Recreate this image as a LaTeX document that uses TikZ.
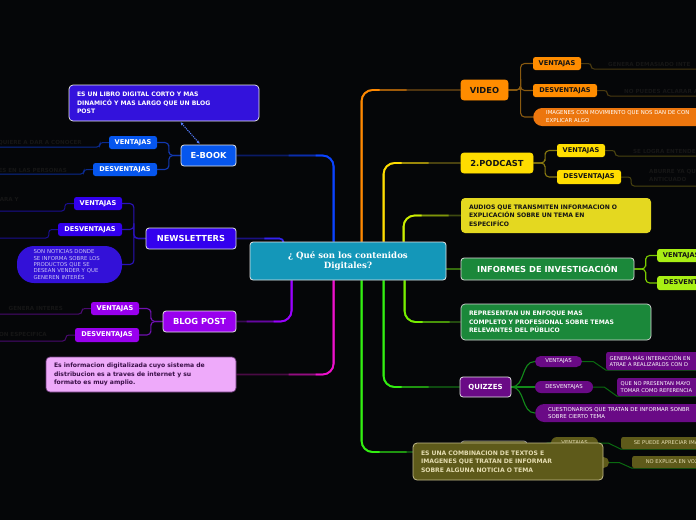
\documentclass[tikz,border=0pt]{standalone}
\usepackage{fontspec}
\setmainfont{DejaVu Sans}
\newfontfamily\titlefont{DejaVu Serif}
\usetikzlibrary{calc,arrows.meta,backgrounds}
\definecolor{bgc}{HTML}{050608}
\definecolor{cent}{HTML}{1497B9}
\definecolor{ebfill}{HTML}{0656EE}
\definecolor{ebnote}{HTML}{3312DC}
\definecolor{nwfill}{HTML}{3300EE}
\definecolor{nwnote}{HTML}{3311D8}
\definecolor{nwtext}{HTML}{C8C0F4}
\definecolor{blfill}{HTML}{9900EE}
\definecolor{infofill}{HTML}{EEAAFA}
\definecolor{infotext}{HTML}{3A1048}
\definecolor{vidfill}{HTML}{FF8C00}
\definecolor{vidnote}{HTML}{EC760E}
\definecolor{podfill}{HTML}{FFDD00}
\definecolor{audfill}{HTML}{E4D820}
\definecolor{grfill}{HTML}{1B883A}
\definecolor{limefill}{HTML}{A8EE14}
\definecolor{qfill}{HTML}{6A0A86}
\definecolor{olfill}{HTML}{5E5A1A}
\definecolor{oltext}{HTML}{E4DCB0}
\definecolor{darktext}{HTML}{141414}
\definecolor{hidc}{HTML}{161616}
\definecolor{lnblue}{HTML}{0A44FF}
\definecolor{lnbluedk}{HTML}{0A1A66}
\definecolor{lnviol}{HTML}{3322EE}
\definecolor{lnvioldk}{HTML}{1A1080}
\definecolor{lnpur}{HTML}{9900FF}
\definecolor{lnpurdk}{HTML}{3A0A55}
\definecolor{lnmag}{HTML}{EE11CC}
\definecolor{lnmagdk}{HTML}{4A0A44}
\definecolor{lnor}{HTML}{FF8800}
\definecolor{lnordk}{HTML}{4E3410}
\definecolor{lnye}{HTML}{FFDD00}
\definecolor{lnyedk}{HTML}{4A4210}
\definecolor{lnyl}{HTML}{CCEE00}
\definecolor{lnyldk}{HTML}{3E4A10}
\definecolor{lnlime}{HTML}{77EE00}
\definecolor{lnlimedk}{HTML}{244A10}
\definecolor{lngr}{HTML}{33EE11}
\definecolor{lngrdk}{HTML}{0E4A10}
\definecolor{chEb}{HTML}{1238B0}
\definecolor{chNw}{HTML}{2A12B8}
\definecolor{chBl}{HTML}{7010B0}
\definecolor{chVid}{HTML}{8A5A10}
\definecolor{chPod}{HTML}{8A7A10}
\definecolor{chInf}{HTML}{7ACC00}
\definecolor{chQ}{HTML}{128A1A}
\definecolor{lfEb}{HTML}{0A2A90}
\definecolor{lfNw}{HTML}{1A0E90}
\definecolor{lfBl}{HTML}{4A0A70}
\definecolor{lfVid}{HTML}{4A3A10}
\definecolor{lfPod}{HTML}{4A4410}
\definecolor{lfQ}{HTML}{0A6A10}
\newcommand\mconn[5]{%
  \draw[mline,draw=#5] (#1) |- (#2);
  \draw[mline,draw=#4!45!#5] (#1) |- ($(#1|-#2)+(#3*45,0)$);
  \draw[mline,draw=#4] (#1) |- ($(#1|-#2)+(#3*18,0)$);
}
\tikzset{
  mainbox/.style={rounded corners=3pt, inner sep=0pt, draw=white!80!gray, line width=0.8pt, text=white, font=\bfseries\fontsize{8.3}{10}\selectfont, align=center},
  subbox/.style={rounded corners=2.5pt, inner sep=0pt, font=\bfseries\fontsize{6.6}{8}\selectfont, align=center},
  notebox/.style={rounded corners=4pt, inner xsep=8pt, inner ysep=0pt, align=left, font=\bfseries\fontsize{6.1}{8.6}\selectfont},
  pillbox/.style={inner sep=0pt, font=\fontsize{5.4}{6.4}\selectfont, align=left},
  hidtext/.style={text=hidc, inner sep=0pt, font=\bfseries\fontsize{5.6}{8}\selectfont, align=left},
  mline/.style={line width=1.8pt, rounded corners=11pt},
  cline/.style={line width=1.1pt, rounded corners=4pt},
  lline/.style={line width=1pt, rounded corners=3pt},
}
\begin{document}
\begin{tikzpicture}[x=1pt,y=-1pt]
\useasboundingbox (0,0) rectangle (696,520);

% central
\node[mainbox, fill=cent, minimum width=196pt, minimum height=38pt, font=\titlefont\bfseries\fontsize{8.6}{10.4}\selectfont] (central) at (348,261) {¿ Qué son los contenidos\\Digitales?};

% ===== E-BOOK
\node[mainbox, fill=ebfill, minimum width=55pt, minimum height=21pt] (ebook) at (208.5,155.5) {E-BOOK};
\node[notebox, fill=ebnote, draw=white!85!gray, line width=0.7pt, text=white, text width=174pt, minimum height=36pt] (ebnote) at (164,103) {ES UN LIBRO DIGITAL CORTO Y MAS\\DINAMICÓ Y MAS LARGO QUE UN BLOG\\POST};
\node[subbox, fill=ebfill, text=white, minimum width=48pt, minimum height=13pt] (ebV) at (133,142.5) {VENTAJAS};
\node[subbox, fill=ebfill, text=white, minimum width=64pt, minimum height=13pt] (ebD) at (125,169.5) {DESVENTAJAS};
\coordinate (ebVend) at (-5,147);
\coordinate (ebDend) at (-5,174);
\node[hidtext, anchor=south east] (ebVt) at (82,145.5) {QUIERE A DAR A CONOCER};
\node[hidtext, anchor=south east] (ebDt) at (67,172.5) {ES EN LAS PERSONAS};

% ===== NEWSLETTERS
\node[mainbox, fill=nwfill, minimum width=90pt, minimum height=21pt] (news) at (191,238.5) {NEWSLETTERS};
\node[subbox, fill=nwfill, text=white, minimum width=48pt, minimum height=13pt] (nwV) at (98,203.5) {VENTAJAS};
\node[subbox, fill=nwfill, text=white, minimum width=64pt, minimum height=13pt] (nwD) at (90,229.5) {DESVENTAJAS};
\node[pillbox, fill=nwnote, text=nwtext, rounded corners=17pt, minimum width=105pt, minimum height=37pt, text width=72pt, inner xsep=16.5pt] (nwnote) at (69.5,264.5) {SON NOTICIAS DONDE\\SE INFORMA SOBRE LOS\\PRODUCTOS QUE SE\\DESEAN VENDER Y QUE\\GENEREN INTERÉS};
\coordinate (nwVend) at (-5,211);
\coordinate (nwDend) at (-5,238);
\node[hidtext, anchor=east] (nwVt) at (19,199.5) {ARA Y};

% ===== BLOG POST
\node[mainbox, fill=blfill, minimum width=73pt, minimum height=21pt] (blog) at (199.5,321.5) {BLOG POST};
\node[subbox, fill=blfill, text=white, minimum width=48pt, minimum height=13pt] (blV) at (115,308.5) {VENTAJAS};
\node[subbox, fill=blfill, text=white, minimum width=64pt, minimum height=14pt] (blD) at (107,335) {DESVENTAJAS};
\coordinate (blVend) at (-5,314);
\coordinate (blDend) at (-5,341);
\node[hidtext, anchor=east] (blVt) at (63,308) {GENERA INTERES};
\node[hidtext, anchor=east] (blDt) at (47,334) {ON ESPECIFICA};

% ===== info box
\node[notebox, fill=infofill, draw=infotext!70!infofill, line width=0.7pt, text=infotext, text width=174pt, minimum height=35pt] (info) at (141,374.5) {Es informacion digitalizada cuyo sistema de\\distribucion es a traves de internet y su\\formato es muy amplio.};

% ===== VIDEO
\node[mainbox, fill=vidfill, draw=vidfill, text=darktext, minimum width=47pt, minimum height=20pt] (video) at (484.5,90) {VIDEO};
\node[subbox, fill=vidfill, text=darktext, minimum width=48pt, minimum height=13pt] (vV) at (557,63.5) {VENTAJAS};
\node[subbox, fill=vidfill, text=darktext, minimum width=64pt, minimum height=13pt] (vD) at (565,90.5) {DESVENTAJAS};
\node[pillbox, fill=vidnote, text=white, rounded corners=9pt, anchor=west, text width=236pt, inner xsep=13pt, minimum height=18pt, font=\fontsize{5.4}{8}\selectfont] (vnote) at (533,117) {IMAGENES CON MOVIMIENTO QUE NOS DAN DE CON\\EXPLICAR ALGO};
\coordinate (vVend) at (705,69);
\coordinate (vDend) at (705,96);
\node[hidtext, anchor=west] (vVt) at (608,64) {GENERA DEMASIADO INTE};
\node[hidtext, anchor=west] (vDt) at (624,91) {NO PUEDES ACLARAR A};

% ===== PODCAST
\node[mainbox, fill=podfill, draw=podfill, text=darktext, minimum width=72pt, minimum height=20pt] (podcast) at (497,163) {2.PODCAST};
\node[subbox, fill=podfill, text=darktext, minimum width=48pt, minimum height=13pt] (pV) at (581,150.5) {VENTAJAS};
\node[subbox, fill=podfill, text=darktext, minimum width=64pt, minimum height=14pt] (pD) at (589,177) {DESVENTAJAS};
\coordinate (pVend) at (705,156);
\coordinate (pDend) at (705,186);
\node[hidtext, anchor=west] (pVt) at (633,151) {SE LOGRA ENTENDER};
\node[hidtext, anchor=north west, font=\bfseries\fontsize{5.6}{8}\selectfont] (pDt) at (649,169) {ABURRE YA QU\\ANTICUADO};

% ===== AUDIOS
\node[notebox, fill=audfill, text=darktext, text width=174pt, minimum height=35pt] (audios) at (556,215.5) {AUDIOS QUE TRANSMITEN INFORMACION O\\EXPLICACIÓN SOBRE UN TEMA EN\\ESPECIFÍCO};

% ===== INFORMES
\node[mainbox, fill=grfill, draw=white!70!gray, minimum width=173pt, minimum height=22pt] (informes) at (547.5,269) {INFORMES DE INVESTIGACIÓN};
\node[subbox, fill=limefill, text=darktext, anchor=west, minimum width=48pt, minimum height=13pt] (iV) at (657,255.5) {VENTAJAS};
\node[subbox, fill=limefill, text=darktext, anchor=west, minimum width=64pt, minimum height=14pt] (iD) at (657,283) {DESVENTAJAS};

% ===== REPRESENTAN
\node[notebox, fill=grfill, draw=white!70!gray, line width=0.7pt, text=white, text width=174pt, minimum height=36pt] (repr) at (556,322) {REPRESENTAN UN ENFOQUE MAS\\COMPLETO Y PROFESIONAL SOBRE TEMAS\\RELEVANTES DEL PÚBLICO};

% ===== QUIZZES
\node[mainbox, fill=qfill, minimum width=51pt, minimum height=20pt, font=\bfseries\fontsize{7}{8}\selectfont] (quiz) at (485.5,387) {QUIZZES};
\node[pillbox, fill=qfill, text=white, rounded corners=5.5pt, align=center, minimum width=47pt, minimum height=11pt] (qV) at (558.5,361.5) {VENTAJAS};
\node[pillbox, fill=qfill, text=white, rounded corners=6pt, align=center, minimum width=58pt, minimum height=12pt] (qD) at (564,387) {DESVENTAJAS};
\node[pillbox, fill=qfill, text=white, rounded corners=9pt, anchor=west, text width=236pt, inner xsep=13pt, minimum height=18pt, font=\fontsize{5.4}{6.8}\selectfont] (qnote) at (535,413) {CUESTIONARIOS QUE TRATAN DE INFORMAR SONBR\\SOBRE CIERTO TEMA};
\node[pillbox, fill=qfill, text=white, rounded corners=2pt, anchor=west, text width=140pt, inner xsep=3.5pt, minimum height=18pt, font=\fontsize{5.2}{6.6}\selectfont] (qVleaf) at (606,361) {GENERA MÁS INTERACCIÓN EN\\ATRAE A REALIZARLOS CON D};
\node[pillbox, fill=qfill, text=white, rounded corners=2pt, anchor=west, text width=140pt, inner xsep=3.5pt, minimum height=18pt, font=\fontsize{5.2}{6.6}\selectfont] (qDleaf) at (617,387) {QUE NO PRESENTAN MAYO\\TOMAR COMO REFERENCIA};
\coordinate (qVend) at (705,370);
\coordinate (qDend) at (705,396);

% ===== combination branch
\node[rounded corners=3pt, fill=olfill, draw=gray!80, line width=0.7pt, minimum width=66pt, minimum height=22pt] (art) at (494,452) {};
\node[pillbox, fill=olfill, text=oltext, rounded corners=6pt, align=center, minimum width=47pt, minimum height=12pt] (cV) at (574.5,443) {VENTAJAS};
\node[pillbox, fill=olfill, text=oltext, rounded corners=5.5pt, align=center, minimum width=59pt, minimum height=11pt] (cD) at (579.5,462.5) {DESVENTAJAS};
\node[pillbox, fill=olfill, text=oltext, rounded corners=2pt, anchor=west, inner xsep=4pt, minimum height=12pt, minimum width=90pt, font=\fontsize{5.2}{6}\selectfont] (cVleaf) at (621,443) {SE PUEDE APRECIAR IMA};
\node[pillbox, fill=olfill, text=oltext, rounded corners=2pt, anchor=west, inner xsep=4pt, minimum height=12pt, minimum width=80pt, font=\fontsize{5.2}{6}\selectfont] (cDleaf) at (632,462) {NO EXPLICA EN VOZ};
\node[notebox, fill=olfill, draw=oltext!75!olfill, line width=0.8pt, text=oltext, text width=174pt, minimum height=37pt] (comb) at (508,461.5) {ES UNA COMBINACION DE TEXTOS E\\IMAGENES QUE TRATAN DE INFORMAR\\SOBRE ALGUNA NOTICIA O TEMA};

% ================= connectors
\begin{scope}[on background layer]
\fill[bgc] (0,0) rectangle (696,520);
\coordinate (tEb) at ($(central.north west)+(84,0)$);
\coordinate (tNw) at ($(central.north west)+(34,0)$);
\coordinate (tVid) at ($(central.north west)+(112,0)$);
\coordinate (tPod) at ($(central.north west)+(134,0)$);
\coordinate (tAud) at ($(central.north west)+(154,0)$);
\coordinate (bBl) at ($(central.south west)+(42,0)$);
\coordinate (bInf) at ($(central.south west)+(84,0)$);
\coordinate (bComb) at ($(central.south west)+(112,0)$);
\coordinate (bQuiz) at ($(central.south west)+(134,0)$);
\coordinate (bRep) at ($(central.south west)+(155,0)$);

\mconn{tEb}{ebook.east}{-1}{lnblue}{lnbluedk}
\draw[line width=1.6pt, rounded corners=4pt, draw=lnvioldk] (news.east) -| (tNw);
\draw[line width=1.6pt, rounded corners=4pt, draw=lnviol] ($(news.east)+(28,0)$) -| (tNw);
\mconn{bBl}{blog.east}{-1}{lnpur}{lnpurdk}
\mconn{bInf}{info.east}{-1}{lnmag}{lnmagdk}
\mconn{tVid}{video.west}{1}{lnor}{lnordk}
\mconn{tPod}{podcast.west}{1}{lnye}{lnyedk}
\mconn{tAud}{audios.west}{1}{lnyl}{lnyldk}
\draw[line width=1.8pt, draw=lnlimedk!80!lnlime] (informes.west -| central.east) -- (informes.west);
\mconn{bRep}{repr.west}{1}{lnlime}{lnlimedk}
\mconn{bQuiz}{quiz.west}{1}{lngr}{lngrdk}
\mconn{bComb}{art.west}{1}{lngr}{lngrdk}

% child connectors
\foreach \c in {ebV,ebD}{\draw[cline, draw=chEb] (ebook.west) -| ($(ebook.west)!0.5!(\c.east)$) |- (\c.east);}
\foreach \c in {nwV,nwD,nwnote}{\draw[cline, draw=chNw] (news.west) -| ($(news.west)!0.5!(nwV.east)$) |- (\c.east);}
\foreach \c in {blV,blD}{\draw[cline, draw=chBl] (blog.west) -| ($(blog.west)!0.5!(\c.east)$) |- (\c.east);}
\foreach \c in {vV,vD,vnote}{\draw[cline, draw=chVid] (video.east) -| ($(video.east)!0.5!(vV.west)$) |- (\c.west);}
\foreach \c in {pV,pD}{\draw[cline, draw=chPod] (podcast.east) -| ($(podcast.east)!0.5!(\c.west)$) |- (\c.west);}
\foreach \c in {iV,iD}{\draw[cline, draw=chInf] (informes.east) -| ($(informes.east)!0.5!(\c.west)$) |- (\c.west);}
\foreach \c in {qV,qD,qnote}{\draw[line width=1.1pt, draw=chQ] (quiz.east) .. controls +(14,0) and +(-14,0) .. (\c.west);}
\foreach \c in {cV,cD}{\draw[line width=1.1pt, draw=chQ] (art.east) .. controls +(14,0) and +(-14,0) .. (\c.west);}

% leaf lines
\draw[lline, draw=lfEb] (ebV.west) -- ++(-9,0) |- (ebVend);
\draw[lline, draw=lfEb] (ebD.west) -- ++(-9,0) |- (ebDend);
\draw[lline, draw=lfNw] (nwV.west) -- ++(-9,0) |- (nwVend);
\draw[lline, draw=lfNw] (nwD.west) -- ++(-9,0) |- (nwDend);
\draw[lline, draw=lfBl] (blV.west) -- ++(-9,0) |- (blVend);
\draw[lline, draw=lfBl] (blD.west) -- ++(-9,0) |- (blDend);
\draw[lline, draw=lfVid] (vV.east) -- ++(10,0) |- (vVend);
\draw[lline, draw=lfVid] (vD.east) -- ++(10,0) |- (vDend);
\draw[lline, draw=lfPod] (pV.east) -- ++(10,0) |- (pVend);
\draw[lline, draw=lfPod] (pD.east) -- ++(10,0) |- (pDend);
\draw[line width=1pt, draw=lfQ] (qV.east) -- ++(11,0) -- (qVleaf.south west) -- (qVend);
\draw[line width=1pt, draw=lfQ] (qD.east) -- ++(11,0) -- (qDleaf.south west) -- (qDend);
\draw[line width=1pt, draw=lfQ] (cV.east) -- ++(10,0) -- (cVleaf.south west) -- ++(90,0);
\draw[line width=1pt, draw=lfQ] (cD.east) -- ++(10,0) -- (cDleaf.south west) -- ++(80,0);
\end{scope}

% dotted link from note to E-BOOK
\draw[densely dotted, line width=1.1pt, draw=lnblue!70!white, {Stealth[length=3pt,width=3pt]}-{Stealth[length=3pt,width=3pt]}] ($(ebnote.south west)+(112,1)$) -- ($(ebook.north west)+(19,-1)$);
\end{tikzpicture}
\end{document}
